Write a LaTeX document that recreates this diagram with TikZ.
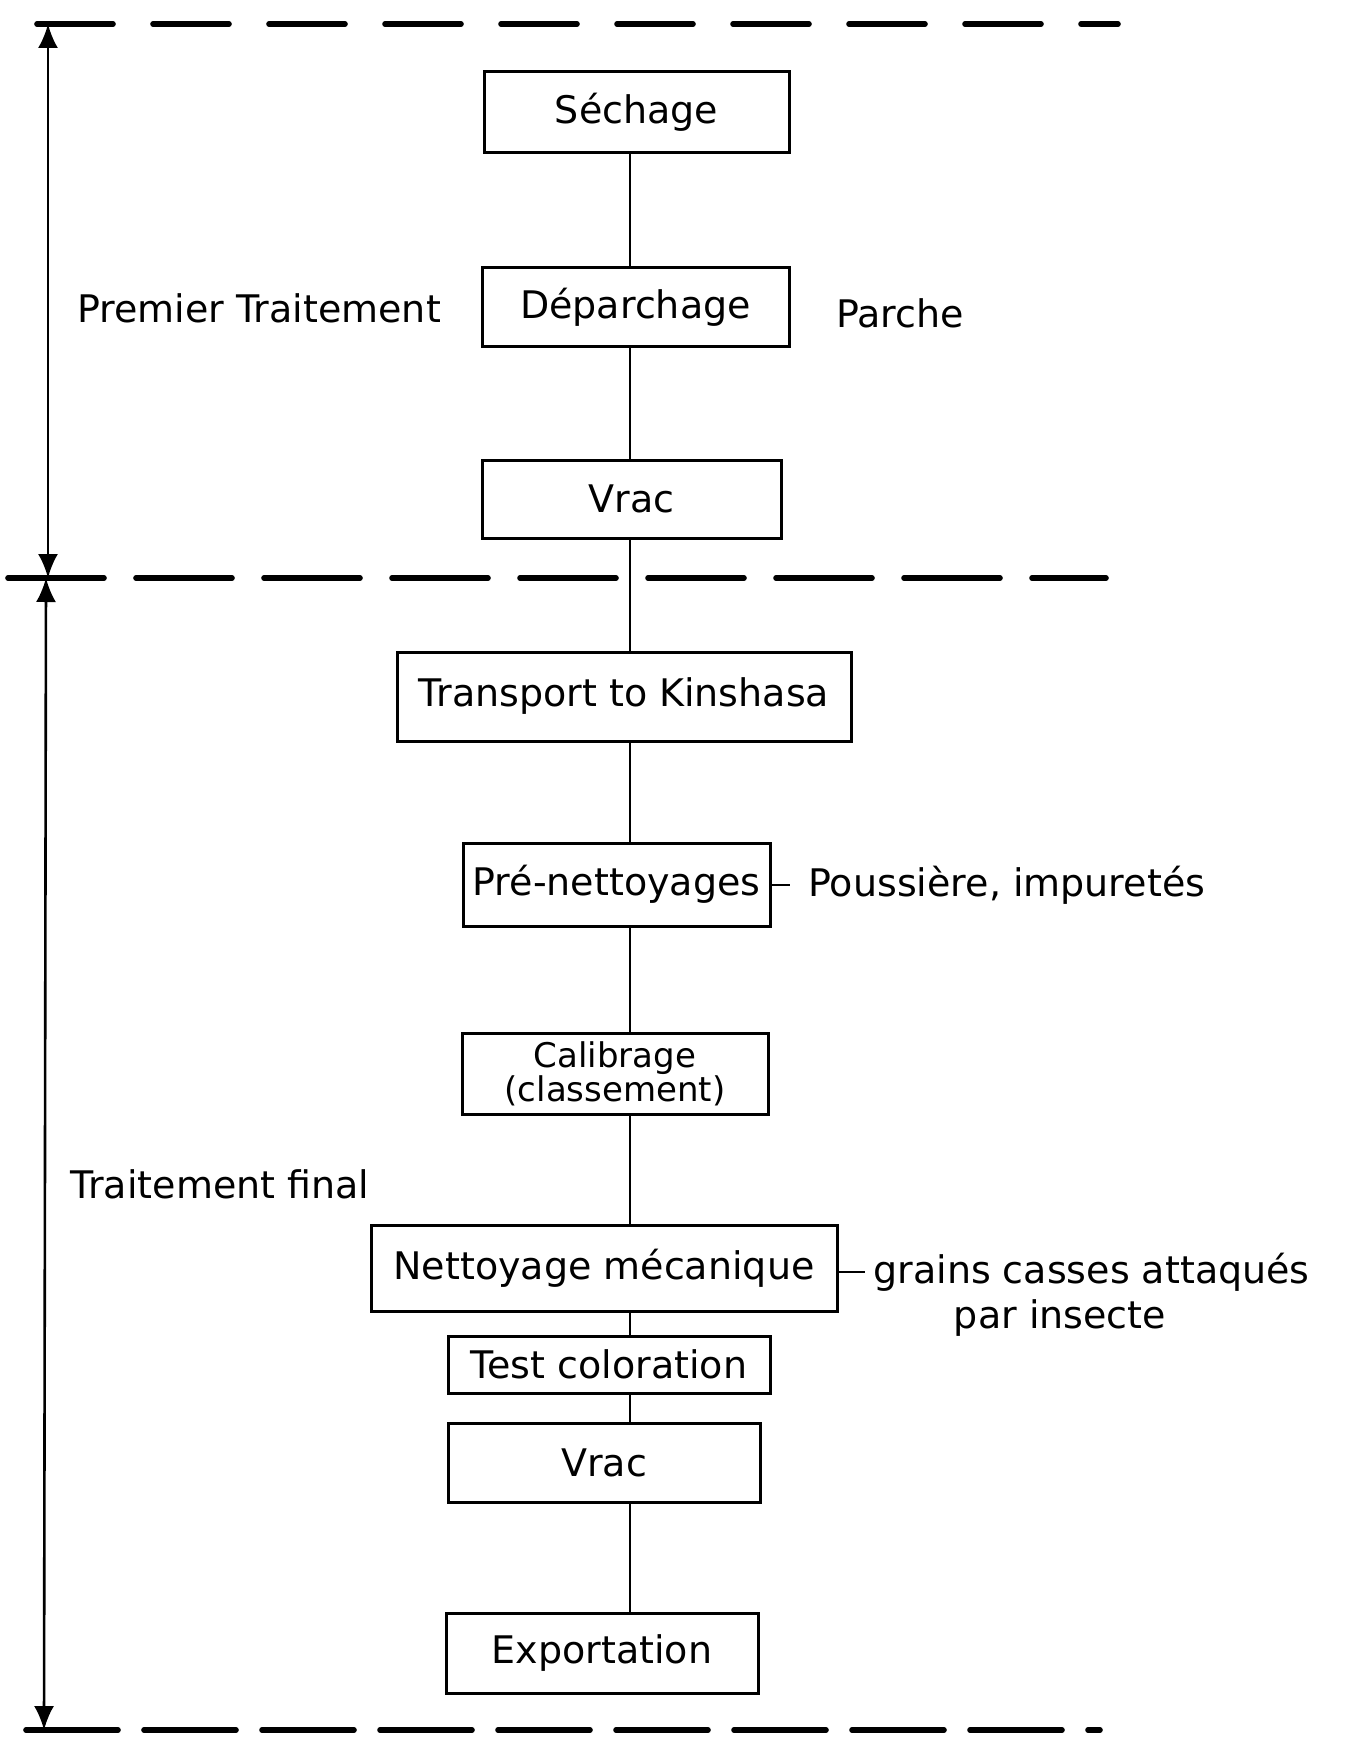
\documentclass[tikz,border=0pt]{standalone}
\usepackage{fontspec}
\setmainfont{DejaVu Sans}
\usetikzlibrary{arrows.meta,positioning}

\tikzset{
  etape/.style={draw, line width=1.5pt, inner sep=2pt, align=center,
    font=\fontsize{19}{16}\selectfont},
  note/.style={inner sep=2pt, font=\fontsize{19}{22}\selectfont},
  flow/.style={line width=1.1pt},
  sepline/.style={line width=2.8pt, line cap=round},
  span/.style={line width=1.3pt,
    {Latex[length=12pt,width=10pt]}-{Latex[length=12pt,width=10pt]}},
}

\begin{document}
\begin{tikzpicture}[x=0.5pt, y=-0.5pt]
\fill[white] (0,0) rectangle (1358,1738);
\useasboundingbox (0,0) rectangle (1358,1738);

% separations between the two stages
\draw[sepline, dash pattern=on 38pt off 20pt] (37,24) -- (1118,24);
\draw[sepline, dash pattern=on 48pt off 16pt] (8,578) -- (1106,578);
\draw[sepline, dash pattern=on 46pt off 13pt] (26,1730) -- (1100,1730);

\coordinate (top) at (48,24);
\coordinate (mid) at (48,578);
\coordinate (mid2) at (46,578);
\coordinate (bot) at (44,1730);
\draw[span] (top) -- (mid);
\draw[span] (mid2) -- (bot);

% process steps
\node[etape, minimum width=152.5pt, minimum height=40.5pt] (sech) at (636.5,112.5) {Séchage};
\node[etape, minimum width=153.5pt, minimum height=39.5pt] (depa) at (635.5,307.5) {Déparchage};
\node[etape, minimum width=149.5pt, minimum height=39pt] (vrac) at (631.5,499) {Vrac};
\node[etape, minimum width=227pt, minimum height=44.5pt] (trans) at (624,696.5) {Transport to Kinshasa};
\node[etape, minimum width=153.5pt, minimum height=41.5pt] (pren) at (616.5,884.5) {Pré-nettoyages};
\node[etape, minimum width=153pt, minimum height=40.5pt, inner sep=1pt,
      font=\fontsize{17}{17}\selectfont] (cali) at (615,1073.5) {Calibrage\\(classement)};
\node[etape, minimum width=233pt, minimum height=43pt] (nett) at (604,1268) {Nettoyage mécanique};
\node[etape, minimum width=161pt, minimum height=28.5pt] (test) at (609,1364.5) {Test coloration};
\node[etape, minimum width=156pt, minimum height=39.5pt] (vracb) at (604,1462.5) {Vrac};
\node[etape, minimum width=156pt, minimum height=40pt] (expo) at (602,1653) {Exportation};

\coordinate (spine) at (630,0);
\foreach \a/\b in {sech/depa, depa/vrac, vrac/trans, trans/pren, pren/cali,
                   cali/nett, nett/test, test/vracb, vracb/expo}
  \draw[flow] (\a.south -| spine) -- (\b.north -| spine);

% side labels
\node[note] (prem) at (259,308) {Premier Traitement};
\node[note] (parche) at (900,313) {Parche};
\node[note] (final) at (220,1184) {Traitement final};
\node[note, anchor=west] (dust) at (804,885) {Poussière, impuretés};
\node[note, anchor=west] (bug) at (869,1272) {grains casses attaqués};
\node[note] (bugb) at (1060,1318) {par insecte};

\draw[flow] (pren.east |- dust.west) -- (dust.west) [shorten >=7pt];
\draw[flow] (nett.east |- bug.west) -- (bug.west) [shorten >=2pt];
\end{tikzpicture}
\end{document}
